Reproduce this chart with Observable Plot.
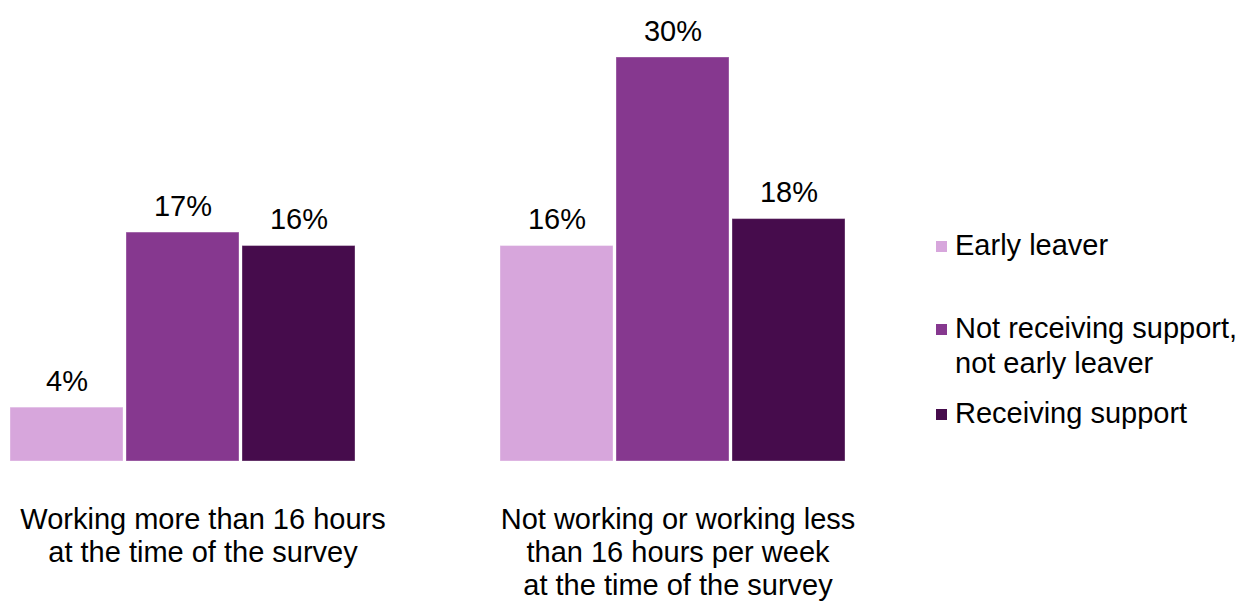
<!DOCTYPE html>
<html>
<head>
<meta charset="utf-8">
<script src="https://cdn.jsdelivr.net/npm/d3@7"></script>
<script src="https://cdn.jsdelivr.net/npm/@observablehq/plot@0.6"></script>
<style>
  body { margin: 0; background: #fff; font-family: "Liberation Sans", Arial, sans-serif; }
  #wrap { position: relative; width: 1240px; height: 601px; }
  #legend { position: absolute; left: 936px; top: 228px; font-size: 29px; color: #000; line-height: 35px; }
  .item { display: flex; align-items: flex-start; }
  .sw { width: 11px; height: 11px; margin-top: 13px; margin-right: 8px; flex: none; }
</style>
</head>
<body>
<div id="wrap"><div id="chart"></div><div id="legend"></div></div>
<script>
const groups = ["Working more than 16 hours\nat the time of the survey",
                "Not working or working less\nthan 16 hours per week\nat the time of the survey"];
const series = ["Early leaver", "Not receiving support, not early leaver", "Receiving support"];
const legendLabels = ["Early leaver", "Not receiving support,\nnot early leaver", "Receiving support"];
const colors = ["#D7A6DC", "#86388F", "#460C4C"];
const valuesGroup1 = [4, 17, 16];
const valuesGroup2 = [16, 30, 18];

const data = [];
series.forEach((s, i) => data.push({group: groups[0], series: s, value: valuesGroup1[i]}));
series.forEach((s, i) => data.push({group: groups[1], series: s, value: valuesGroup2[i]}));

const labelOpts = {fx: d => d, text: d => d, frameAnchor: "bottom", lineAnchor: "top", dy: 44, lineHeight: 1.14, fontSize: 29, fill: "#000"};

const chart = Plot.plot({
  width: 1240,
  height: 601,
  marginTop: 57,
  marginBottom: 140,
  marginLeft: 10,
  marginRight: 394,
  style: {fontFamily: "'Liberation Sans', Arial, sans-serif", fontSize: "29px", color: "#000"},
  fx: {domain: groups, paddingInner: 0.295, paddingOuter: 0, axis: null},
  x: {domain: series, paddingInner: 0.03, paddingOuter: 0, axis: null},
  y: {domain: [0, 30], axis: null},
  color: {domain: series, range: colors},
  marks: [
    Plot.barY(data, {fx: "group", x: "series", y: "value", fill: "series", stroke: "#ffffff", strokeOpacity: 0.35, strokeWidth: 1}),
    Plot.text(data, {fx: "group", x: "series", y: "value", text: d => d.value + "%", lineAnchor: "bottom", dy: -17, fontSize: 29, fill: "#000"}),
    Plot.text([groups[0]], {...labelOpts, dx: 20}),
    Plot.text([groups[1]], {...labelOpts, dx: 5})
  ]
});
document.getElementById("chart").appendChild(chart);

const legend = document.getElementById("legend");
legendLabels.forEach((lab, i) => {
  const item = document.createElement("div");
  item.className = "item";
  item.style.marginBottom = i === 0 ? "48px" : "15px";
  const sw = document.createElement("div");
  sw.className = "sw";
  sw.style.background = colors[i];
  const t = document.createElement("div");
  t.innerHTML = lab.replace("\n", "<br>");
  item.appendChild(sw);
  item.appendChild(t);
  legend.appendChild(item);
});
</script>
</body>
</html>
